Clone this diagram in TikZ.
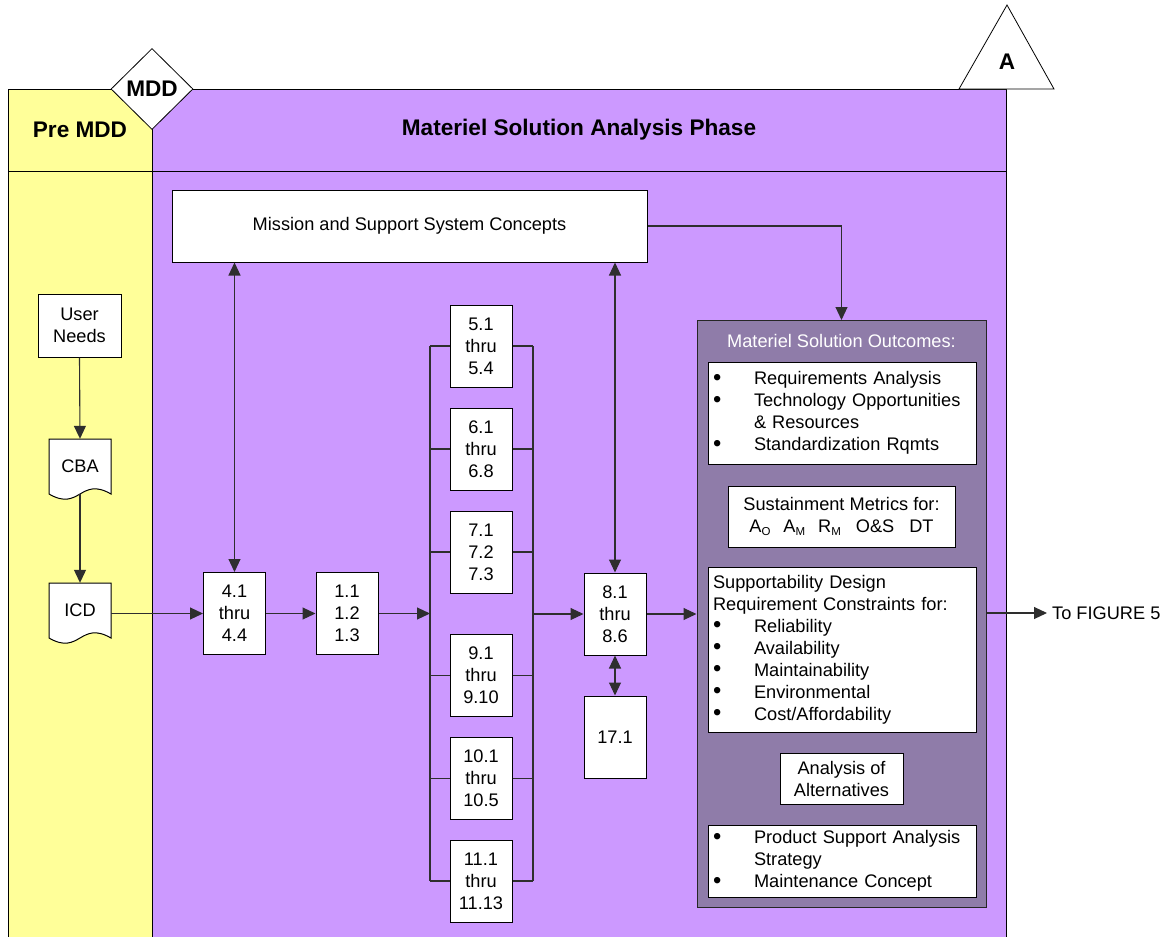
\documentclass[tikz,border=0pt]{standalone}
\usepackage{fontspec}
\setmainfont{Liberation Sans}
\usetikzlibrary{arrows.meta,shapes.geometric,calc}
\definecolor{lyellow}{HTML}{FFFF99}
\definecolor{lpurple}{HTML}{CC99FF}
\definecolor{dpurple}{HTML}{8F7CA9}
\definecolor{lncol}{HTML}{2E2E2E}
\newcommand{\blt}{\makebox[41pt][l]{\smash{\raisebox{-0.5pt}{\scalebox{1.3}{\textbullet}}}}}
\newcommand{\sbs}[1]{\raisebox{-2.5pt}{\fontsize{11.5}{12}\selectfont #1}}
\newcommand{\docnode}[4]{%
  \draw[fill=white, line width=1pt] (#2-31,#3-27.5) -- (#2+31,#3-27.5) -- (#2+31,#3+27.5)
     .. controls (#2,#3+27.5-18) and (#2,#3+27.5+18) .. (#2-31,#3+27.5) -- cycle;
  \node[inner sep=0pt, minimum width=62pt, minimum height=55pt] (#1) at (#2,#3) {#4};}
\begin{document}
\begin{tikzpicture}[x=1pt,y=-1pt, font=\fontsize{18.2}{22}\selectfont,
  box/.style={draw=black, fill=white, line width=1pt, inner sep=0pt, align=center},
  listbox/.style={box, align=left, text width=258pt, inner xsep=5pt},
  numbox/.style={box, minimum width=62pt, minimum height=82pt},
  conn/.style={draw=lncol, line width=1.1pt},
  arr/.style={conn, -{Triangle[length=13pt,width=12pt]}},
  darr/.style={conn, {Triangle[length=13pt,width=12pt]}-{Triangle[length=13pt,width=12pt]}},
  title/.style={font=\fontsize{22.6}{27}\selectfont\bfseries}]
\useasboundingbox (0,0) rectangle (1168,937);

% lanes
\fill[lyellow] (8,89) rectangle (152,950);
\fill[lpurple] (152,89) rectangle (1006,950);
\draw[line width=1pt] (8,950) -- (8,89) -- (1006,89) -- (1006,950);
\draw[line width=1pt] (152,89) -- (152,950);
\draw[line width=1pt] (8,171) -- (1006,171);

\node[title] (pre) at (80,130) {Pre MDD};
\node[title] (phase) at (579,130) {Materiel Solution Analysis Phase};
\node[diamond, draw=black, fill=white, line width=0.8pt, minimum width=82pt, minimum height=81pt, inner sep=0pt, title] (mdd) at (152,89) {MDD};

% triangle A
\coordinate (apex) at (1007,5);
\draw[fill=white, line width=0.8pt] (959,89) -- (apex) -- (1054,89) -- cycle;
\node[title] (tA) at (1007,62) {A};

% mission
\node[box, minimum width=475pt, minimum height=72pt] (mission) at (409.5,226) {Mission and Support System Concepts};

% pre MDD lane
\node[box, minimum width=83pt, minimum height=63pt] (un) at (79.5,325.5) {User\\Needs};
\docnode{cba}{80}{466.5}{CBA}
\docnode{icd}{80}{610.5}{ICD}

% process boxes
\node[numbox] (b41) at (234.5,613.5) {4.1\\thru\\4.4};
\node[numbox] (b11) at (347,613.5) {1.1\\1.2\\1.3};
\node[numbox] (b51) at (481,346) {5.1\\thru\\5.4};
\node[numbox] (b61) at (481,449) {6.1\\thru\\6.8};
\node[numbox] (b71) at (481,552) {7.1\\7.2\\7.3};
\node[numbox] (b91) at (481,675.5) {9.1\\thru\\9.10};
\node[numbox] (b101) at (481,778.5) {10.1\\thru\\10.5};
\node[numbox] (b111) at (481,881) {11.1\\thru\\11.13};
\node[numbox] (b81) at (615,614) {8.1\\thru\\8.6};
\node[numbox] (b171) at (615,737) {17.1};

% outcomes
\node[draw=black!85, fill=dpurple, line width=1pt, minimum width=289pt, minimum height=587pt, inner sep=0pt] (out) at (841.5,614) {};
\node[text=white] (outt) at (841.5,341) {Materiel Solution Outcomes:};
\node[listbox, minimum height=102pt] (ob1) at (842,413) {\blt Requirements Analysis\\ \blt Technology Opportunities\\ \hspace*{41pt}\& Resources\\ \blt Standardization Rqmts};
\node[box, minimum width=227pt, minimum height=61pt] (ob2) at (841.5,516.5) {Sustainment Metrics for:\\ A\sbs{O}\hspace{13pt}A\sbs{M}\hspace{13pt}R\sbs{M}\hspace{15pt}O\&S\hspace{15pt}DT};
\node[listbox, minimum height=165pt] (ob3) at (842,649.5) {Supportability Design\\Requirement Constraints for:\\ \blt Reliability\\ \blt Availability\\ \blt Maintainability\\ \blt Environmental\\ \blt Cost/Affordability};
\node[box, minimum width=123pt, minimum height=51pt] (ob4) at (841.5,778.5) {Analysis of\\Alternatives};
\node[listbox, minimum height=72pt] (ob5) at (842,861) {\blt Product Support Analysis\\ \hspace*{41pt}Strategy\\ \blt Maintenance Concept};

\node[anchor=west, inner xsep=5pt] (fig) at (1047,613) {To FIGURE 5};

% connectors
\coordinate (bl) at (430,0);
\coordinate (br) at (533,0);
\draw[arr] (un.south) -- (cba.north);
\draw[arr] (cba.south) -- (icd.north);
\draw[arr] (icd.east |- b41) -- (b41.west);
\draw[arr] (b41.east) -- (b11.west);
\draw[arr] (b11.east) -- (b11.east -| bl);
\draw[conn] (b51.west -| bl) -- (b111.west -| bl);
\draw[conn] (b51.east -| br) -- (b111.east -| br);
\foreach \n in {b51,b61,b71,b91,b101,b111}
  \draw[conn] (\n.west) -- (\n.west -| bl) (\n.east) -- (\n.east -| br);
\draw[arr] (b81.west -| br) -- (b81.west);
\draw[darr] (b41 |- mission.south) -- (b41.north);
\draw[darr] (b81 |- mission.south) -- (b81.north);
\draw[darr] (b81.south) -- (b171.north);
\draw[arr] (mission.east) -| (out.north);
\draw[arr] (b81.east) -- (b81.east -| out.west);
\draw[arr] (out.east |- fig) -- (fig.west);
\end{tikzpicture}
\end{document}
